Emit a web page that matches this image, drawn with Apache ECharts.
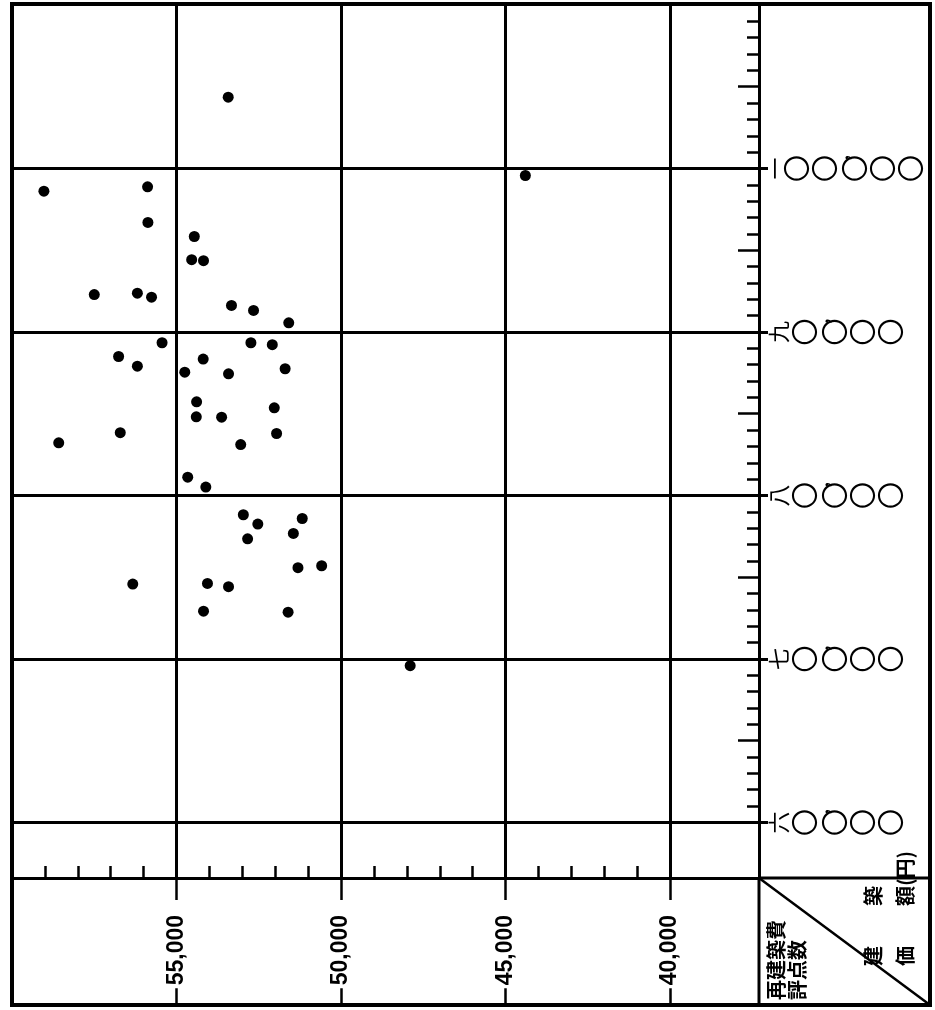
<!DOCTYPE html>
<html><head><meta charset="utf-8">
<script src="https://cdn.jsdelivr.net/npm/echarts@6/dist/echarts.min.js"></script>
<style>html,body{margin:0;padding:0;background:#fff}#c{width:935px;height:1010px}</style>
</head><body><div id="c"></div>
<script>
// 再建築費評点数 (x) axis ticks
const xMajorTicks = [55000, 50000, 45000, 40000];
const xTickLabels = ['55,000', '50,000', '45,000', '40,000'];
const xMinorTicks = [59000, 58000, 57000, 56000, 54000, 53000, 52000, 51000,
  49000, 48000, 47000, 46000, 44000, 43000, 42000, 41000];
// 建築価額(円) (y) axis ticks
const yMajorTicks = [60000, 70000, 80000, 90000, 100000];
const yTickLabels = ['六〇,〇〇〇', '七〇,〇〇〇', '八〇,〇〇〇', '九〇,〇〇〇', '一〇〇,〇〇〇'];
const yHalfTicks = [65000, 75000, 85000, 95000, 105000];
const yMinorTicks = Array.from({length: 49}, (_, i) => 61000 + i * 1000);

// data points: 再建築費評点数, 建築価額
const buildingCostScore = [59030, 55880, 55870, 54460, 54540, 54180, 57500, 56190, 55760, 53330,
  52660, 51590, 55440, 52740, 52090, 56760, 54190, 56190, 54750, 53420,
  51700, 54390, 52030, 54400, 53630, 56710, 58580, 51960, 53050, 54660,
  54110, 52970, 51180, 52530, 51450, 52840, 50590, 51310, 56330, 54060,
  53420, 54180, 51610, 47900, 53430, 44400];
const buildingPrice = [98610, 98880, 96700, 95840, 94420, 94360, 92290, 92370, 92130, 91620,
  91320, 90560, 89340, 89340, 89220, 88500, 88340, 87910, 87540, 87440,
  87750, 85730, 85360, 84810, 84790, 83840, 83220, 83790, 83110, 81120,
  80510, 78820, 78590, 78250, 77680, 77350, 75700, 75580, 74580, 74620,
  74420, 72920, 72860, 69590, 104360, 99570];

const X_MIN = 37300, X_MAX = 60000, Y_MIN = 56600, Y_MAX = 110000;
const GL = 12, GR = 176, GT = 5, GB = 132;
const W = 935, H = 1010;
const axX = W - GR, axY = H - GB;
const CJK = '"Noto Sans CJK JP", sans-serif';

const chart = echarts.init(document.getElementById('c'), null, {renderer: 'canvas'});

function yLabel(v) {
  const s = yTickLabels[yMajorTicks.indexOf(v)];
  return Array.from(s).map(ch => {
    if (ch === '〇') return '{d|〇}';
    if (ch === ',') return '{c|,}';
    if (ch === '一') return '{k1|一}';
    return '{k|' + ch + '}';
  }).join('\n');
}

const black = '#000';
const baseX = {type: 'value', min: X_MIN, max: X_MAX, inverse: true, position: 'bottom', gridIndex: 0};
const baseY = {type: 'value', min: Y_MIN, max: Y_MAX, position: 'right', gridIndex: 0};

chart.setOption({
  animation: false,
  backgroundColor: '#fff',
  grid: {left: GL, right: GR, top: GT, bottom: GB, containLabel: false, outerBoundsMode: 'none', show: false},
  xAxis: [
    Object.assign({}, baseX, {
      axisLine: {show: true, onZero: false, lineStyle: {color: black, width: 3}},
      axisTick: {show: true, inside: true, length: 12, customValues: xMinorTicks, lineStyle: {color: black, width: 2.5}},
      axisLabel: {show: false}, splitLine: {show: false}
    }),
    Object.assign({}, baseX, {
      axisLine: {show: false, onZero: false},
      axisTick: {show: true, inside: false, length: 127, customValues: xMajorTicks, lineStyle: {color: black, width: 2.5}},
      axisLabel: {
        show: true, customValues: xMajorTicks, rotate: 90, margin: 22,
        formatter: v => xTickLabels[xMajorTicks.indexOf(v)],
        fontFamily: '"Liberation Sans", Arial, sans-serif', fontWeight: 'bold', fontSize: 23, color: black,
        backgroundColor: '#fff', padding: [3, 15, 3, 3]
      },
      splitLine: {show: true, lineStyle: {color: black, width: 3}}
    })
  ],
  yAxis: [
    Object.assign({}, baseY, {
      axisLine: {show: true, onZero: false, lineStyle: {color: black, width: 3}},
      axisTick: {show: true, inside: true, length: 12, customValues: yMinorTicks, lineStyle: {color: black, width: 2.5}},
      axisLabel: {show: false}, splitLine: {show: false}
    }),
    Object.assign({}, baseY, {
      axisLine: {show: false, onZero: false},
      axisTick: {show: true, inside: true, length: 21, customValues: yHalfTicks, lineStyle: {color: black, width: 2.5}},
      axisLabel: {show: false}, splitLine: {show: false}
    }),
    Object.assign({}, baseY, {
      axisLine: {show: false, onZero: false},
      axisTick: {show: true, inside: false, length: 9, customValues: yMajorTicks, lineStyle: {color: black, width: 3}},
      axisLabel: {
        show: true, customValues: yMajorTicks, rotate: 90, margin: 7,
        align: 'center', verticalAlign: 'top',
        formatter: yLabel,
        rich: {
          k: {fontFamily: CJK, fontSize: 22, lineHeight: 25, color: black},
          k1: {fontFamily: CJK, fontSize: 22, lineHeight: 17, color: black},
          d: {fontFamily: CJK, fontSize: 27, lineHeight: 28, color: black},
          c: {fontFamily: CJK, fontSize: 20, lineHeight: 2, color: black, align: 'right'}
        }
      },
      splitLine: {show: true, lineStyle: {color: black, width: 3}}
    })
  ],
  series: [{
    type: 'scatter', xAxisIndex: 0, yAxisIndex: 0,
    symbol: 'circle', symbolSize: 11,
    itemStyle: {color: black, opacity: 1},
    data: buildingCostScore.map((x, i) => [x, buildingPrice[i]]),
    z: 5
  }],
  graphic: [
    {type: 'rect', shape: {x: GL, y: 4, width: 930 - GL, height: 1005 - 4}, style: {fill: null, stroke: black, lineWidth: 4}, z: 100},
    {type: 'line', shape: {x1: axX, y1: axY, x2: 930, y2: axY}, style: {stroke: black, lineWidth: 3}, z: 100},
    {type: 'line', shape: {x1: axX, y1: axY, x2: axX, y2: 1005}, style: {stroke: black, lineWidth: 3}, z: 100},
    {type: 'line', shape: {x1: axX, y1: axY, x2: 930, y2: 1005}, style: {stroke: black, lineWidth: 2.5}, z: 100},
    {type: 'text', x: 776, y: 1000, rotation: Math.PI / 2, style: {text: '再建築費', font: 'bold 20px ' + CJK, fill: black, align: 'left', verticalAlign: 'middle'}, z: 100},
    {type: 'text', x: 797, y: 1000, rotation: Math.PI / 2, style: {text: '評点数', font: 'bold 20px ' + CJK, fill: black, align: 'left', verticalAlign: 'middle'}, z: 100},
    {type: 'text', x: 873, y: 966, rotation: Math.PI / 2, style: {text: '建　　築', font: 'bold 20px ' + CJK, fill: black, align: 'left', verticalAlign: 'middle'}, z: 100},
    {type: 'text', x: 905, y: 966, rotation: Math.PI / 2, style: {text: '価　　額(円)', font: 'bold 20px ' + CJK, fill: black, align: 'left', verticalAlign: 'middle'}, z: 100}
  ]
});
</script></body></html>
